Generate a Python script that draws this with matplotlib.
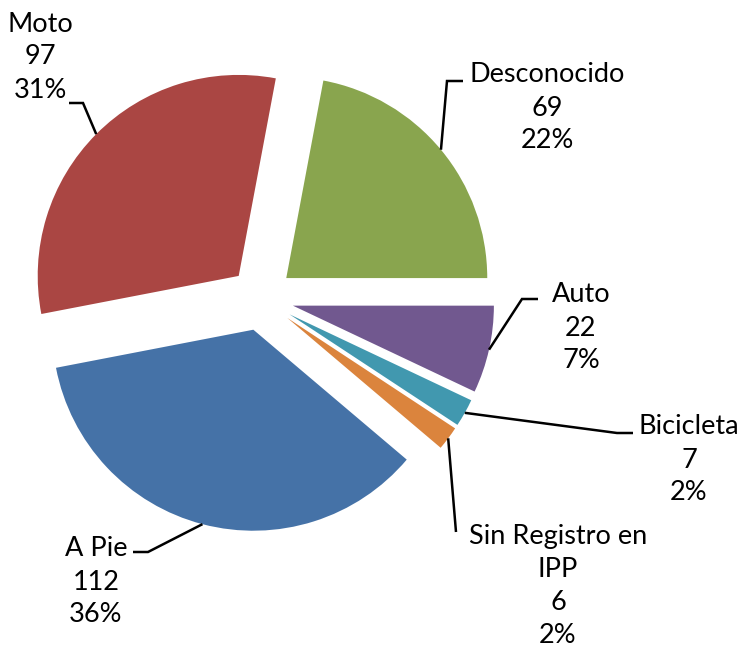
import math
import matplotlib
matplotlib.use("Agg")
import matplotlib.pyplot as plt

# Data
categories = ["A Pie", "Moto", "Desconocido", "Auto", "Bicicleta", "Sin Registro en IPP"]
values = [112, 97, 69, 22, 7, 6]
percent_labels = ["36%", "31%", "22%", "7%", "2%", "2%"]
colors = ["#4572A7", "#AA4643", "#89A54E", "#71588F", "#4198AF", "#DB843D"]

W, H = 742, 648
CX, CY, R = 261.5, 298.6, 201.0


def px(x, y):
    """Pixel position (origin top-left) -> data coordinates (pie radius = 1)."""
    return (x - CX) / R, (CY - y) / R


fig = plt.figure(figsize=(W / 100, H / 100), dpi=100)
ax = fig.add_axes([0, 0, 1, 1])

wedges, _ = ax.pie(values, colors=colors, startangle=319.74, counterclock=False,
                   radius=1.0, center=(0, 0), explode=[0.16] * len(values),
                   wedgeprops=dict(linewidth=0))

ax.set_aspect("auto")
ax.set_xlim(px(0, 0)[0], px(W, 0)[0])
ax.set_ylim(px(0, H)[1], px(0, 0)[1])
ax.axis("off")

# Label placement: text block centre and leader-line elbow (pixels)
label_pos = [(96, 582), (40, 57), (547, 108), (581, 328), (689, 460), (558, 586)]
elbow_pts = [[(148, 552), (133, 552)],
             [(83, 103), (69, 103)],
             [(447, 81), (463, 81)],
             [(522, 299), (538, 299)],
             [(617, 433), (633, 433)],
             [(456, 532)]]
label_text = ["A Pie", "Moto", "Desconocido", "Auto", "Bicicleta", "Sin Registro en\nIPP"]

font = ["Lato", "DejaVu Sans"]
for w, name, v, pct, pos, elbow in zip(wedges, label_text, values, percent_labels,
                                        label_pos, elbow_pts):
    mid = math.radians((w.theta1 + w.theta2) / 2)
    ax_, ay_ = w.center[0] + w.r * math.cos(mid), w.center[1] + w.r * math.sin(mid)
    pts = [(ax_, ay_)] + [px(*p) for p in elbow]
    ax.plot([p[0] for p in pts], [p[1] for p in pts], color="black", lw=1.8,
            solid_joinstyle="miter", solid_capstyle="butt")
    tx, ty = px(*pos)
    ax.text(tx, ty, f"{name}\n{v}\n{pct}", ha="center", va="center",
            fontsize=19.5, family=font, linespacing=1.4, multialignment="center")

fig.savefig("out.png", dpi=100)
